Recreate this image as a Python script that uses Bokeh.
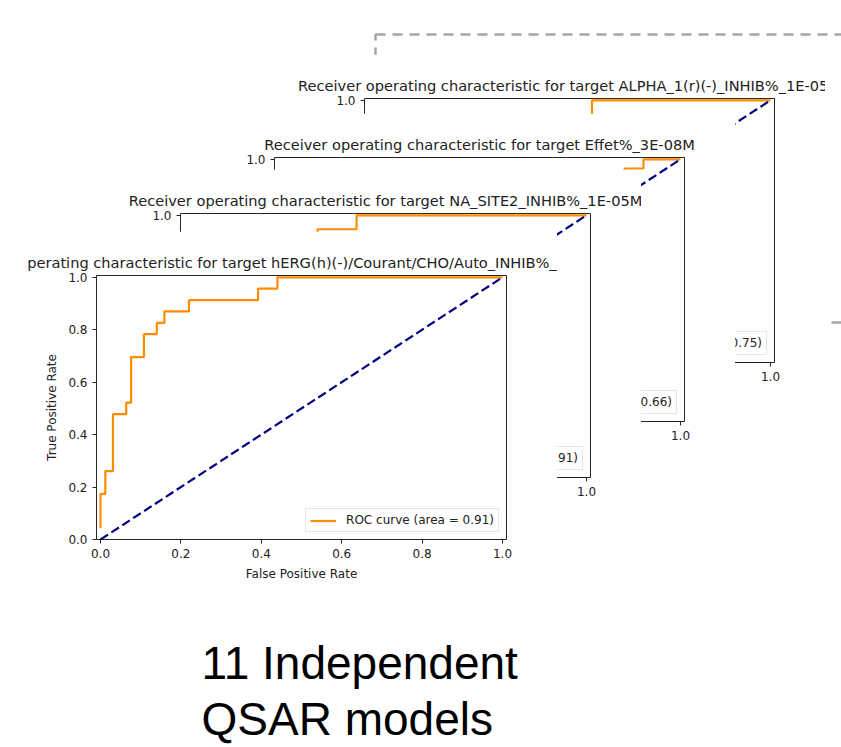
from bokeh.plotting import figure
from bokeh.layouts import column
from bokeh.models import Range1d, FixedTicker, PrintfTickFormatter, ColumnDataSource
from bokeh.core.properties import value
from bokeh.core.validation import silence
from bokeh.core.validation.warnings import MISSING_RENDERERS
from bokeh.embed import file_html
from bokeh.resources import INLINE

silence(MISSING_RENDERERS, True)

# ---- data ---------------------------------------------------------------
tick_values = [0.0, 0.2, 0.4, 0.6, 0.8, 1.0]

targets = [
    "hERG(h)(-)/Courant/CHO/Auto_INHIB%_1E-05M",
    "NA_SITE2_INHIB%_1E-05M",
    "Effet%_3E-08M",
    "ALPHA_1(r)(-)_INHIB%_1E-05M",
]
auc_values = [0.91, 0.91, 0.66, 0.75]

herg_fpr = [0.0, 0.0, 0.012, 0.012, 0.031, 0.031, 0.064, 0.064, 0.076, 0.076,
            0.108, 0.108, 0.14, 0.14, 0.159, 0.159, 0.22, 0.22, 0.392, 0.392,
            0.44, 0.44, 1.0]
herg_tpr = [0.043, 0.174, 0.174, 0.261, 0.261, 0.478, 0.478, 0.522, 0.522, 0.696,
            0.696, 0.783, 0.783, 0.826, 0.826, 0.870, 0.870, 0.913, 0.913, 0.957,
            0.957, 1.0, 1.0]

na_fpr = [0.0, 0.0, 0.03, 0.03, 0.09, 0.09, 0.21, 0.21, 0.331, 0.331, 0.428, 0.428, 1.0]
na_tpr = [0.0, 0.42, 0.42, 0.63, 0.63, 0.79, 0.79, 0.86, 0.86, 0.947, 0.947, 1.0, 1.0]

effet_fpr = [0.0, 0.0, 0.08, 0.08, 0.2, 0.2, 0.42, 0.42, 0.62, 0.62, 0.861, 0.861,
             0.908, 0.908, 1.0]
effet_tpr = [0.0, 0.1, 0.1, 0.35, 0.35, 0.6, 0.6, 0.7, 0.7, 0.83, 0.83, 0.965,
             0.965, 1.0, 1.0]

alpha_fpr = [0.0, 0.0, 0.05, 0.05, 0.15, 0.15, 0.3, 0.3, 0.556, 0.556, 1.0]
alpha_tpr = [0.0, 0.2, 0.2, 0.4, 0.4, 0.55, 0.55, 0.68, 0.68, 1.0, 1.0]

caption_lines = ["11 Independent", "QSAR models"]

# ---- styling ------------------------------------------------------------
FONT = "DejaVu Sans"
INK = "#222222"
SPINE = "#262626"
FRAME_W, FRAME_H = 410, 264
# every figure in the column shares these side borders, so frames stay put
BORDER_L, BORDER_R, BORDER_T, BORDER_B = 68, 51, 44, 46


def place(fig, left, top):
    fig.styles = {"position": "absolute", "left": f"{left}px", "top": f"{top}px"}
    return fig


def roc_panel(target, fpr, tpr, auc, title_offset=None):
    p = figure(
        frame_width=FRAME_W, frame_height=FRAME_H,
        x_range=Range1d(-0.01, 1.01), y_range=Range1d(0.0, 1.007),
        min_border_left=BORDER_L, min_border_right=BORDER_R,
        min_border_top=BORDER_T, min_border_bottom=BORDER_B,
        title="Receiver operating characteristic for target " + target,
        output_backend="svg", toolbar_location=None,
    )
    p.title.text_font = FONT
    p.title.text_font_size = "14.6px"
    p.title.text_font_style = "normal"
    p.title.text_color = INK
    p.title.standoff = 9
    if title_offset is None:
        p.title.align = "center"
    else:
        p.title.align = "left"
        p.title.offset = title_offset

    p.grid.visible = False
    p.outline_line_color = SPINE
    p.outline_line_width = 1
    p.outline_line_alpha = 1.0

    for ax in (p.xaxis[0], p.yaxis[0]):
        ax.ticker = FixedTicker(ticks=tick_values, minor_ticks=[])
        ax.formatter = PrintfTickFormatter(format="%.1f")
        ax.axis_line_color = None
        ax.major_tick_line_color = SPINE
        ax.major_tick_in = 0
        ax.major_tick_out = 4
        ax.minor_tick_line_color = None
        ax.major_label_text_font = FONT
        ax.major_label_text_font_size = "12px"
        ax.major_label_text_color = INK
        ax.axis_label_text_font = FONT
        ax.axis_label_text_font_size = "12px"
        ax.axis_label_text_font_style = "normal"
        ax.axis_label_text_color = INK
        ax.axis_label_standoff = 6
    p.xaxis.axis_label = "False Positive Rate"
    p.yaxis.axis_label = "True Positive Rate"

    src = ColumnDataSource(dict(fpr=fpr, tpr=tpr))
    p.line("fpr", "tpr", source=src, line_color="#ff8c00", line_width=2.2,
           legend_label=f"ROC curve (area = {auc:.2f})")
    p.line([0, 1], [0, 1], line_color="#000080", line_width=2.2, line_dash="9 4")

    lg = p.legend[0]
    lg.location = "bottom_right"
    lg.margin = 7
    lg.padding = 4
    lg.spacing = 0
    lg.glyph_width = 26
    lg.glyph_height = 11
    lg.label_height = 11
    lg.label_standoff = 10
    lg.label_text_font = FONT
    lg.label_text_font_size = "12px"
    lg.label_text_color = INK
    lg.border_line_color = "#cccccc"
    lg.border_line_width = 1
    lg.background_fill_color = "white"
    lg.background_fill_alpha = 0.8
    return p


def bare(frame_w, frame_h, x_rng, y_rng, top=BORDER_T, bottom=BORDER_B):
    p = figure(frame_width=frame_w, frame_height=frame_h,
               x_range=x_rng, y_range=y_rng,
               min_border_left=BORDER_L, min_border_right=BORDER_R,
               min_border_top=top, min_border_bottom=bottom,
               x_axis_type=None, y_axis_type=None,
               output_backend="svg", toolbar_location=None)
    p.grid.visible = False
    p.outline_line_color = None
    return p


# ---- caption under the stack (ranges in page pixels) ---------------------
cap = bare(410, 128, Range1d(180, 590), Range1d(747, 619))
cap.text(x=[201, 201], y=[662, 718], text=caption_lines,
         text_font=value("Liberation Sans"), text_font_size="46px",
         text_color="#000000", text_baseline="alphabetic", text_align="left")
place(cap, 180 - BORDER_L, 619 - BORDER_T)

# ---- dashed outline standing for the remaining models --------------------
stack = bare(480, 288, Range1d(0, 1), Range1d(0, 1), top=5, bottom=5)
stack.outline_line_color = "#a6a6a6"
stack.outline_line_width = 2.5
stack.outline_line_dash = "10 7"
place(stack, 375 - BORDER_L, 34 - 5)

# ---- the four stacked ROC panels (back to front) ------------------------
alpha_p = place(roc_panel(targets[3], alpha_fpr, alpha_tpr, auc_values[3]), 296, 54)
effet_p = place(roc_panel(targets[2], effet_fpr, effet_tpr, auc_values[2]), 206, 113)
na_p = place(roc_panel(targets[1], na_fpr, na_tpr, auc_values[1]), 112, 169)
herg_p = place(roc_panel(targets[0], herg_fpr, herg_tpr, auc_values[0], title_offset=-146), 28, 231)

root = column(cap, stack, alpha_p, effet_p, na_p, herg_p,
              width=841, height=747, sizing_mode="fixed",
              styles={"position": "relative", "overflow": "hidden"})

open("out.html", "w").write(file_html(root, INLINE))
